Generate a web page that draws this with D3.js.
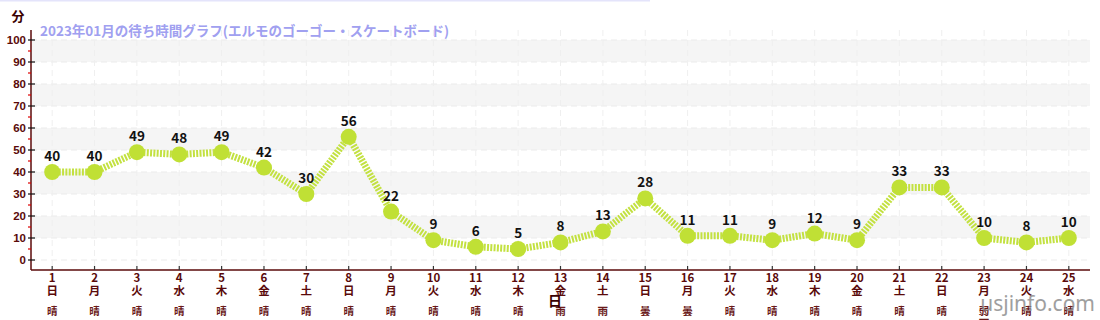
<!DOCTYPE html>
<html>
<head>
<meta charset="utf-8">
<script src="https://cdn.jsdelivr.net/npm/d3@7"></script>
<style>
  body { margin: 0; background: #fff; }
  svg { display: block; font-family: "Noto Sans CJK JP", "Noto Sans", sans-serif; }
</style>
</head>
<body>
<script>
// chart data
const days = [1,2,3,4,5,6,7,8,9,10,11,12,13,14,15,16,17,18,19,20,21,22,23,24,25];
const weekdays = ["日","月","火","水","木","金","土","日","月","火","水","木","金","土","日","月","火","水","木","金","土","日","月","火","水"];
const weather = ["晴","晴","晴","晴","晴","晴","晴","晴","晴","晴","晴","晴","雨","雨","曇","曇","晴","晴","晴","晴","晴","晴","弱\n雨","晴","晴"];
const waits = [40,40,49,48,49,42,30,56,22,9,6,5,8,13,28,11,11,9,12,9,33,33,10,8,10];
const yTicks = [0,10,20,30,40,50,60,70,80,90,100];
const title = "2023年01月の待ち時間グラフ(エルモのゴーゴー・スケートボード)";

const width = 1100, height = 320;
const plotL = 31, plotR = 1090, plotT = 40, plotB = 260, axisY = 270;
const maroon = "#5a0a0a";

const svg = d3.select("body").append("svg")
    .attr("width", width)
    .attr("height", height);

// faint line across the top
svg.append("line")
    .attr("x1", 0).attr("x2", 650)
    .attr("y1", 0.5).attr("y2", 0.5)
    .attr("stroke", "#e4e4fb").attr("stroke-width", 2);

const x = d3.scaleLinear().domain([0.5, 25.5]).range([plotL, plotR]);
const y = d3.scaleLinear().domain([0, 100]).range([plotB, plotT]);

// grey bands
const bands = [10, 30, 50, 70, 90];
svg.selectAll(".band").data(bands).enter()
    .append("rect")
    .attr("x", plotL + 1)
    .attr("width", plotR - plotL - 1)
    .attr("y", d => y(d + 10))
    .attr("height", d => y(d) - y(d + 10))
    .attr("fill", "#f5f5f5");

// dashed grid
svg.selectAll(".hgrid").data(yTicks).enter()
    .append("line")
    .attr("x1", plotL).attr("x2", plotR)
    .attr("y1", d => y(d)).attr("y2", d => y(d))
    .attr("stroke", "#ebebeb").attr("stroke-dasharray", "6,4");

svg.selectAll(".vgrid").data(days).enter()
    .append("line")
    .attr("x1", d => x(d)).attr("x2", d => x(d))
    .attr("y1", 30).attr("y2", axisY)
    .attr("stroke", "#efefef").attr("stroke-dasharray", "6,4");

// y axis
const yAxis = d3.axisLeft(y).tickValues(yTicks).tickSize(0).tickPadding(5);
const gy = svg.append("g").attr("transform", `translate(${plotL},0)`).call(yAxis);
gy.select(".domain").remove();
gy.selectAll("text")
    .attr("fill", maroon)
    .attr("font-size", 11.5)
    .attr("font-weight", "bold");

svg.append("line")
    .attr("x1", plotL).attr("x2", plotL)
    .attr("y1", 30).attr("y2", axisY)
    .attr("stroke", maroon).attr("stroke-width", 1.5);

svg.selectAll(".ytick").data(yTicks).enter()
    .append("line")
    .attr("x1", plotL - 3).attr("x2", plotL + 4)
    .attr("y1", d => y(d)).attr("y2", d => y(d))
    .attr("stroke", "#111").attr("stroke-width", 1.2);

svg.selectAll(".yminor").data(yTicks.slice(0, -1)).enter()
    .append("line")
    .attr("x1", plotL - 3).attr("x2", plotL)
    .attr("y1", d => y(d + 5)).attr("y2", d => y(d + 5))
    .attr("stroke", "#d00").attr("stroke-width", 1.2);

// x axis
svg.append("line")
    .attr("x1", plotL).attr("x2", plotR)
    .attr("y1", axisY).attr("y2", axisY)
    .attr("stroke", maroon).attr("stroke-width", 1.5);

svg.selectAll(".xtick").data(days).enter()
    .append("line")
    .attr("x1", d => x(d)).attr("x2", d => x(d))
    .attr("y1", axisY - 4).attr("y2", axisY)
    .attr("stroke", "#333").attr("stroke-width", 1.2);

const xl = svg.selectAll(".xlab").data(days).enter()
    .append("g")
    .attr("transform", d => `translate(${x(d)},0)`)
    .attr("fill", maroon)
    .attr("font-size", 11.5)
    .attr("font-weight", "bold")
    .attr("text-anchor", "middle");

xl.append("text").attr("y", 282).text(d => d);
xl.append("text").attr("y", 295).text((d, i) => weekdays[i]);
xl.each(function(d, i) {
    const lines = weather[i].split("\n");
    const g = d3.select(this);
    lines.forEach((s, j) => {
        g.append("text")
            .attr("y", 315 + j * 12)
            .attr("font-size", 10.5)
            .attr("fill", "#6a1a1a")
            .text(s);
    });
});

// axis titles
svg.append("text")
    .attr("x", 555).attr("y", 306)
    .attr("text-anchor", "middle")
    .attr("font-size", 14).attr("font-weight", "bold")
    .attr("fill", "#3a0000")
    .text("日");

svg.append("text")
    .attr("x", 18).attr("y", 21)
    .attr("text-anchor", "middle")
    .attr("font-size", 13).attr("font-weight", "bold")
    .attr("fill", "#3a0000")
    .text("分");

svg.append("text")
    .attr("x", 40).attr("y", 36)
    .attr("font-size", 13.5).attr("font-weight", "bold")
    .attr("fill", "#a0a0f0")
    .text(title);

// the line and points
const pts = days.map((d, i) => ({ day: d, v: waits[i] }));
const line = d3.line().x(d => x(d.day)).y(d => y(d.v));

svg.append("path")
    .datum(pts)
    .attr("d", line)
    .attr("fill", "none")
    .attr("stroke", "#c3e141")
    .attr("stroke-width", 7)
    .attr("stroke-dasharray", "2,1.3");

svg.selectAll(".pt").data(pts).enter()
    .append("circle")
    .attr("cx", d => x(d.day))
    .attr("cy", d => y(d.v))
    .attr("r", 8)
    .attr("fill", "#c0e035");

svg.selectAll(".vlab").data(pts).enter()
    .append("text")
    .attr("x", d => x(d.day))
    .attr("y", d => y(d.v) - 11)
    .attr("text-anchor", "middle")
    .attr("font-size", 13.5).attr("font-weight", "bold")
    .attr("fill", "#111")
    .text(d => d.v);

// watermark
svg.append("text")
    .attr("x", 1095).attr("y", 311)
    .attr("text-anchor", "end")
    .attr("font-size", 21)
    .attr("font-family", "'Noto Sans', sans-serif")
    .attr("fill", "#888").attr("opacity", 0.8)
    .text("usjinfo.com");
</script>
</body>
</html>
